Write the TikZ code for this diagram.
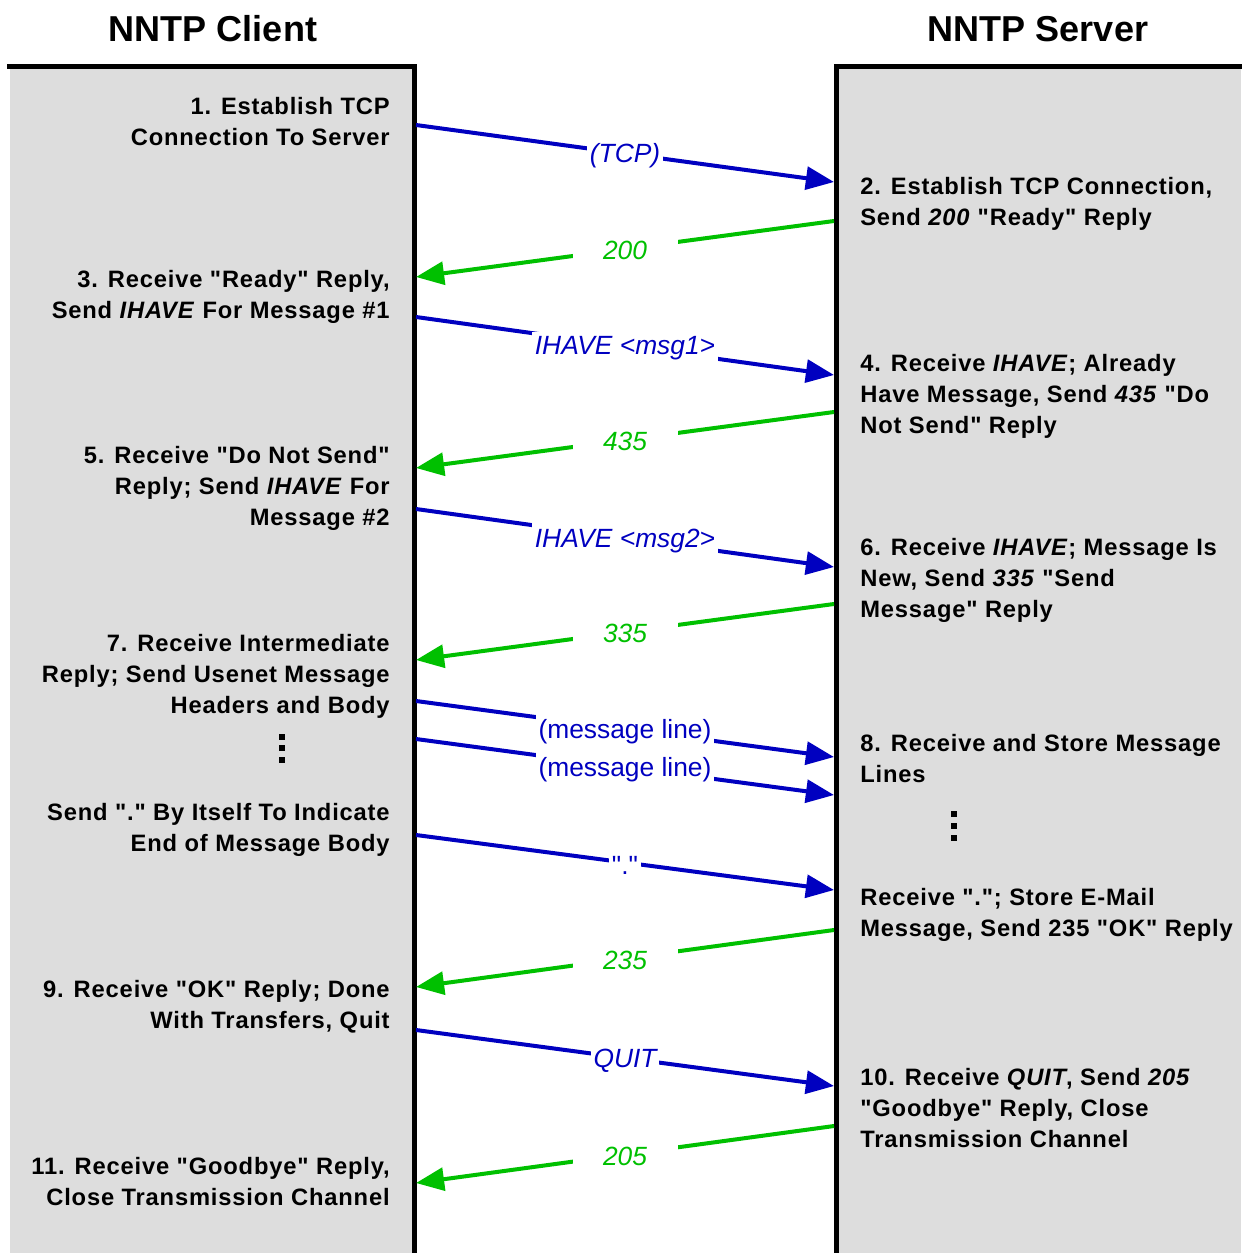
\documentclass[tikz,border=0pt]{standalone}
\usepackage{fontspec}
\setmainfont{Liberation Sans}[Ligatures=TeXOff]
\newfontfamily\bodyfam{Liberation Sans}[Ligatures=TeXOff, LetterSpace=3.5]
\usetikzlibrary{arrows.meta}
\definecolor{msgblue}{RGB}{0,0,192}
\definecolor{replygreen}{RGB}{0,192,0}
\definecolor{panelgray}{RGB}{221,221,221}
\newcommand{\bodyfnt}{\bodyfam\fontsize{13.5}{17.6}\selectfont\bfseries}
\newcommand{\lblfnt}{\fontsize{15}{18}\selectfont}
\tikzset{
  lefttxt/.style={anchor=north east, align=right, font=\bodyfnt, inner sep=0pt},
  righttxt/.style={anchor=north west, align=left, font=\bodyfnt, inner sep=0pt},
  titletxt/.style={font=\fontsize{20.5}{24}\selectfont\bfseries, inner sep=0pt},
  panel/.style={fill=panelgray, draw=none},
  border/.style={line width=0.1cm, line cap=rect},
  msg/.style={draw=msgblue, line width=0.08cm, -{Triangle[length=16pt,width=13pt]}},
  reply/.style={draw=replygreen, line width=0.08cm, -{Triangle[length=16pt,width=13pt]}},
  msglbl/.style={font=\lblfnt\itshape, text=msgblue, fill=white, inner xsep=1.5pt, inner ysep=3pt, yshift=-1.5pt},
  msglblup/.style={font=\lblfnt, text=msgblue, fill=white, inner xsep=1.5pt, inner ysep=3pt, yshift=-1.5pt},
  replylbl/.style={font=\lblfnt\itshape, text=replygreen, fill=white, minimum width=2.1cm, inner xsep=1pt, inner ysep=3pt, yshift=-1pt},
  dotsq/.style={fill=black},
}
\begin{document}
\begin{tikzpicture}[x=0.02cm,y=-0.02cm]
\useasboundingbox (0,0) rectangle (1241,1253);
% panels
\fill[panel] (10,67) rectangle (414,1253);
\fill[panel] (836,67) rectangle (1241,1253);
\draw[border] (9,67) -- (414,67) -- (414,1256);
\draw[border] (1245,67) -- (836,67) -- (836,1256);
% titles
\node[titletxt] (tc) at (213,29) {NNTP Client};
\node[titletxt] (ts) at (1038,29) {NNTP Server};
% lifeline coordinates
\foreach \n/\y in {1/125,2/277,3/317,4/468,5/509,6/660,7/701,8/739,9/835,10/987,11/1030,12/1183}
  \coordinate (c\n) at (416,\y);
\foreach \n/\y in {1/182,2/221,3/375,4/412,5/567,6/604,7/757,8/795,9/890,10/930,11/1086,12/1126}
  \coordinate (s\n) at (834,\y);
% client texts
\node[lefttxt] (l1) at (390,97) {1. Establish TCP\\Connection To Server};
\node[lefttxt] (l3) at (390,270) {3. Receive "Ready" Reply,\\Send \textit{IHAVE} For Message \#1};
\node[lefttxt] (l5) at (390,446) {5. Receive "Do Not Send"\\Reply; Send \textit{IHAVE} For\\Message \#2};
\node[lefttxt] (l7) at (390,634) {7. Receive Intermediate\\Reply; Send Usenet Message\\Headers and Body};
\node[lefttxt] (l7b) at (390,803) {Send "." By Itself To Indicate\\End of Message Body};
\node[lefttxt] (l9) at (390,980) {9. Receive "OK" Reply; Done\\With Transfers, Quit};
\node[lefttxt] (l11) at (390,1157) {11. Receive "Goodbye" Reply,\\Close Transmission Channel};
% server texts
\node[righttxt] (r2) at (860,177) {2. Establish TCP Connection,\\Send \textit{200} "Ready" Reply};
\node[righttxt] (r4) at (860,354) {4. Receive \textit{IHAVE}; Already\\Have Message, Send \textit{435} "Do\\Not Send" Reply};
\node[righttxt] (r6) at (860,538) {6. Receive \textit{IHAVE}; Message Is\\New, Send \textit{335} "Send\\Message" Reply};
\node[righttxt] (r8) at (860,734) {8. Receive and Store Message\\Lines};
\node[righttxt] (r8b) at (860,888) {Receive "."; Store E-Mail\\Message, Send 235 "OK" Reply};
\node[righttxt] (r10) at (860,1068) {10. Receive \textit{QUIT}, Send \textit{205}\\"Goodbye" Reply, Close\\Transmission Channel};
% ellipsis dots
\foreach \y in {737,748,760} \fill[dotsq] (279,\y-3) rectangle (285,\y+3);
\foreach \y in {814,826,838} \fill[dotsq] (951,\y-3) rectangle (957,\y+3);
% messages
\draw[msg] (c1) -- node[msglbl] {(TCP)} (s1);
\draw[reply] (s2) -- node[replylbl] {200} (c2);
\draw[msg] (c3) -- node[msglbl] {IHAVE <msg1>} (s3);
\draw[reply] (s4) -- node[replylbl] {435} (c4);
\draw[msg] (c5) -- node[msglbl] {IHAVE <msg2>} (s5);
\draw[reply] (s6) -- node[replylbl] {335} (c6);
\draw[msg] (c7) -- node[msglblup] {(message line)} (s7);
\draw[msg] (c8) -- node[msglblup] {(message line)} (s8);
\draw[msg] (c9) -- node[msglblup] {"."} (s9);
\draw[reply] (s10) -- node[replylbl] {235} (c10);
\draw[msg] (c11) -- node[msglbl] {QUIT} (s11);
\draw[reply] (s12) -- node[replylbl] {205} (c12);
\end{tikzpicture}
\end{document}
